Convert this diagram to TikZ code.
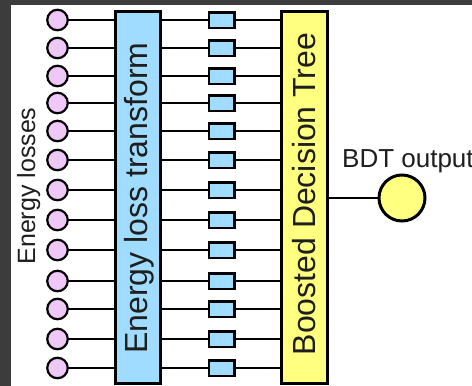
\documentclass[tikz,border=0pt]{standalone}
\usepackage{fontspec}
\setmainfont{Liberation Sans}
\definecolor{framegray}{HTML}{3C3C3C}
\definecolor{losspink}{HTML}{F0C8F8}
\definecolor{skyblue}{HTML}{A0DCFF}
\definecolor{paleyellow}{HTML}{FFFF80}
\definecolor{inkgray}{HTML}{1E1E1E}
\begin{document}
\begin{tikzpicture}[x=1pt,y=-1pt,
  lossdot/.style={circle,draw=black,line width=2.2pt,fill=losspink,minimum size=20.5pt,inner sep=0pt},
  featbox/.style={rectangle,draw=black,line width=2.5pt,fill=skyblue,minimum width=25.5pt,minimum height=15.5pt,inner sep=0pt},
  bigbox/.style={rectangle,draw=black,line width=3pt,minimum height=372pt,inner sep=0pt},
  wire/.style={draw=black,line width=2pt},
  label/.style={text=inkgray,inner sep=0pt}]
\useasboundingbox (0,0) rectangle (472,386);
% page frame
\fill[framegray] (0,0) rectangle (472,386);
\fill[white] (11,5) rectangle (472,386);

% main blocks
\node[bigbox,fill=skyblue,minimum width=45pt] (elt) at (138,197.5) {};
\node[bigbox,fill=paleyellow,minimum width=46pt] (bdt) at (304.5,197.5) {};

% input losses, transformed features and their wires
\foreach \y [count=\i] in {20,48,76,103,131,160,190,220,250,281,309,339,368} {
  \draw[wire] (57.5,\y) -- (elt.west |- {(0,\y)});
  \draw[wire] (elt.east |- {(0,\y)}) -- (bdt.west |- {(0,\y)});
  \node[lossdot] (c\i) at (57.5,\y) {};
  \node[featbox] (s\i) at (221.5,\y) {};
}
% redraw block outlines above the wire ends
\node[bigbox,fill=skyblue,minimum width=45pt] at (138,197.5) {};
\node[bigbox,fill=paleyellow,minimum width=46pt] at (304.5,197.5) {};

% output
\node[circle,draw=black,line width=3pt,fill=paleyellow,minimum size=46pt,inner sep=0pt] (out) at (402,198) {};
\draw[wire] (bdt.east |- out) -- (out.west);

% labels
\node[label,rotate=90,anchor=base,font=\fontsize{32}{36}\selectfont] (tl) at (147,198) {Energy loss transform};
\node[label,rotate=90,anchor=base,font=\fontsize{32}{36}\selectfont] (bl) at (315,194) {Boosted Decision Tree};
\node[label,rotate=90,anchor=base,font=\fontsize{25}{30}\selectfont] (el) at (35,186) {Energy losses};
\node[label,anchor=base west,font=\fontsize{26}{30}\selectfont] (ol) at (342,167) {BDT output};
\end{tikzpicture}
\end{document}
